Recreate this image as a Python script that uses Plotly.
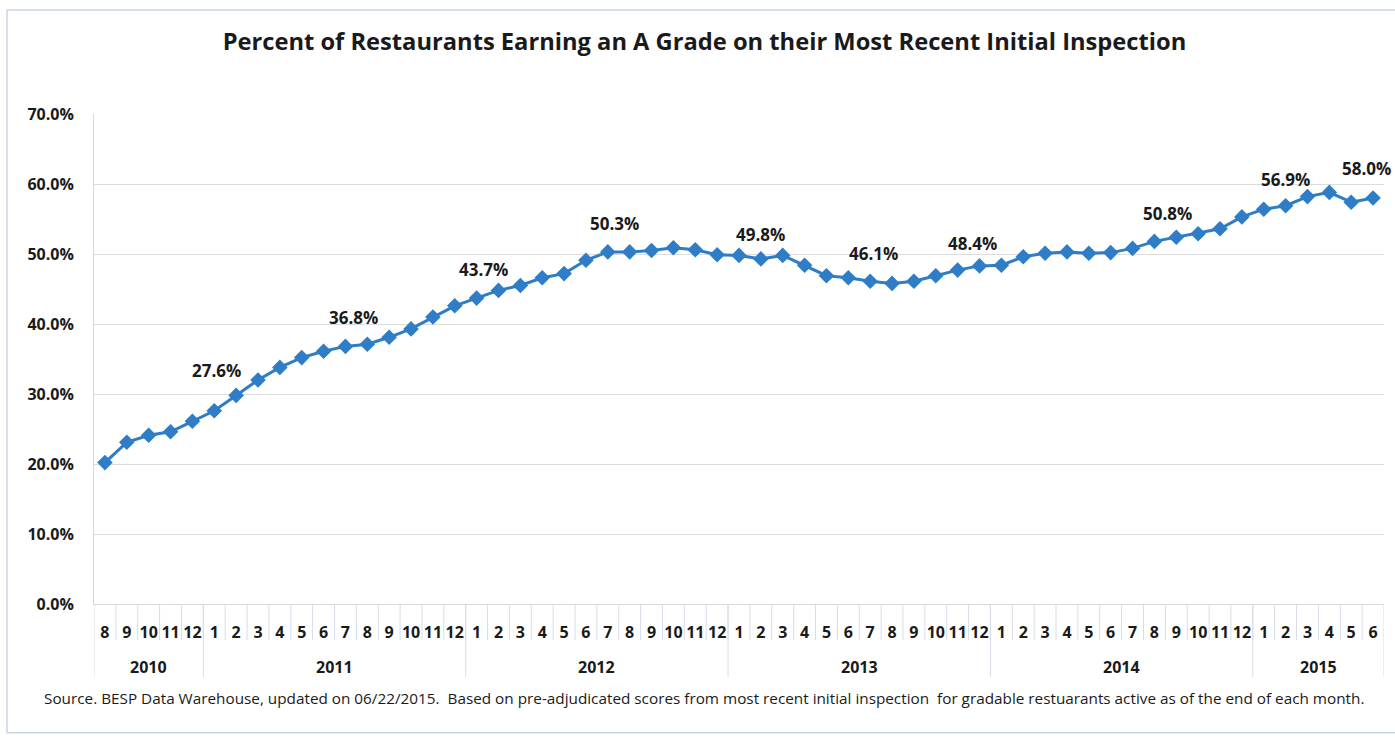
import plotly.graph_objects as go

# ---------------- data ----------------
months = ["8", "9", "10", "11", "12"] + [str(m) for m in range(1, 13)] * 4 + ["1", "2", "3", "4", "5", "6"]
years = ["2010", "2011", "2012", "2013", "2014", "2015"]
months_per_year = [5, 12, 12, 12, 12, 6]
pct_a_grade = [
    20.2, 23.1, 24.1, 24.6, 26.1,                                        # 2010
    27.6, 29.8, 32.0, 33.8, 35.2, 36.1, 36.8, 37.1, 38.1, 39.3, 41.0, 42.6,  # 2011
    43.7, 44.8, 45.5, 46.6, 47.2, 49.1, 50.3, 50.3, 50.5, 50.9, 50.6, 49.9,  # 2012
    49.8, 49.3, 49.8, 48.4, 46.9, 46.6, 46.1, 45.8, 46.1, 46.9, 47.7, 48.3,  # 2013
    48.4, 49.6, 50.1, 50.3, 50.1, 50.2, 50.8, 51.8, 52.4, 52.9, 53.6, 55.3,  # 2014
    56.4, 56.9, 58.2, 58.8, 57.4, 58.0,                                  # 2015
]
label_index = [5, 11, 17, 23, 29, 35, 41, 47, 53, 58]
label_text = ["27.6%", "36.8%", "43.7%", "50.3%", "49.8%", "46.1%", "48.4%", "50.8%", "56.9%", "58.0%"]
label_shift = [(2, 40), (8, 29), (7, 29), (7, 28), (21, 21), (3, 28), (-29, 22), (35, 35), (22, 30), (-7, 30)]
y_ticks = [0, 10, 20, 30, 40, 50, 60, 70]
y_ticktext = ["0.0%", "10.0%", "20.0%", "30.0%", "40.0%", "50.0%", "60.0%", "70.0%"]

title = "Percent of Restaurants Earning an A Grade on their Most Recent Initial Inspection"
source = ("Source. BESP Data Warehouse, updated on 06/22/2015.&nbsp; Based on pre-adjudicated scores from most "
          "recent initial inspection&nbsp; for gradable restuarants active as of the end of each month.")

# ---------------- figure ----------------
n = len(pct_a_grade)
xs = list(range(n))
FONT = "Open Sans"
DARK = "#1a1a1a"
BLUE = "#2E7DC6"
TICKCOL = "#d6dde8"

fig = go.Figure()
fig.add_trace(go.Scatter(
    x=xs, y=pct_a_grade, mode="lines+markers",
    line=dict(color=BLUE, width=3),
    marker=dict(symbol="diamond", size=12, color=BLUE),
    hoverinfo="skip", showlegend=False,
))

annotations = []
for idx, txt, (dx, dy) in zip(label_index, label_text, label_shift):
    annotations.append(dict(
        x=idx, y=pct_a_grade[idx], xref="x", yref="y", text=txt, showarrow=False,
        xshift=dx, yshift=dy, xanchor="center", yanchor="middle",
        font=dict(family=FONT, size=17, color=DARK, weight="bold"),
    ))

# year labels and separators
shapes = []
start = -0.5
for yr, cnt in zip(years, months_per_year):
    end = start + cnt
    annotations.append(dict(
        x=(start + end) / 2, y=0, xref="x", yref="paper", text=yr, showarrow=False,
        yshift=-63, xanchor="center", yanchor="middle",
        font=dict(family=FONT, size=16, color=DARK, weight="bold"),
    ))
    shapes.append(dict(type="line", xref="x", yref="paper", x0=start, x1=start, y0=0, y1=-0.149,
                       line=dict(color=TICKCOL, width=1)))
    start = end
shapes.append(dict(type="line", xref="x", yref="paper", x0=start, x1=start, y0=0, y1=-0.149,
                   line=dict(color=TICKCOL, width=1)))
for i in range(1, n):
    shapes.append(dict(type="line", xref="x", yref="paper", x0=i - 0.5, x1=i - 0.5, y0=0, y1=-0.074,
                       line=dict(color=TICKCOL, width=1)))

# outer chart frame
shapes.append(dict(type="rect", xref="paper", yref="paper", x0=-0.0674, x1=1.03, y0=-0.263, y1=1.212,
                   line=dict(color="#c9d5e6", width=1.5), fillcolor="rgba(0,0,0,0)", layer="below"))

annotations.append(dict(
    x=0, y=0, xref="paper", yref="paper", text=source, showarrow=False,
    xshift=-52, yshift=-94, xanchor="left", yanchor="middle",
    font=dict(family=FONT, size=15.3, color=DARK),
))

fig.update_layout(
    width=1395, height=737,
    margin=dict(l=94, r=11, t=114, b=133),
    paper_bgcolor="white", plot_bgcolor="white",
    title=dict(text=title, x=0.505, xref="container", y=0.943, yref="container",
               xanchor="center", yanchor="middle",
               font=dict(family=FONT, size=23.7, color=DARK, weight="bold")),
    xaxis=dict(range=[-0.5, n - 0.5], tickmode="array", tickvals=xs, ticktext=months,
               showgrid=False, zeroline=False, showline=True, linecolor="#d9d9d9", linewidth=1,
               ticks="", ticklabelstandoff=14,
               tickfont=dict(family=FONT, size=16, color=DARK, weight="bold")),
    yaxis=dict(range=[0, 70], tickmode="array", tickvals=y_ticks, ticktext=y_ticktext,
               showgrid=True, gridcolor="#dcdcdc", gridwidth=1, zeroline=False,
               showline=True, linecolor="#d0d8e4", linewidth=1, ticks="", ticklabelstandoff=16,
               tickfont=dict(family=FONT, size=16, color=DARK, weight="bold")),
    annotations=annotations, shapes=shapes,
)

fig.write_html("out.html")
